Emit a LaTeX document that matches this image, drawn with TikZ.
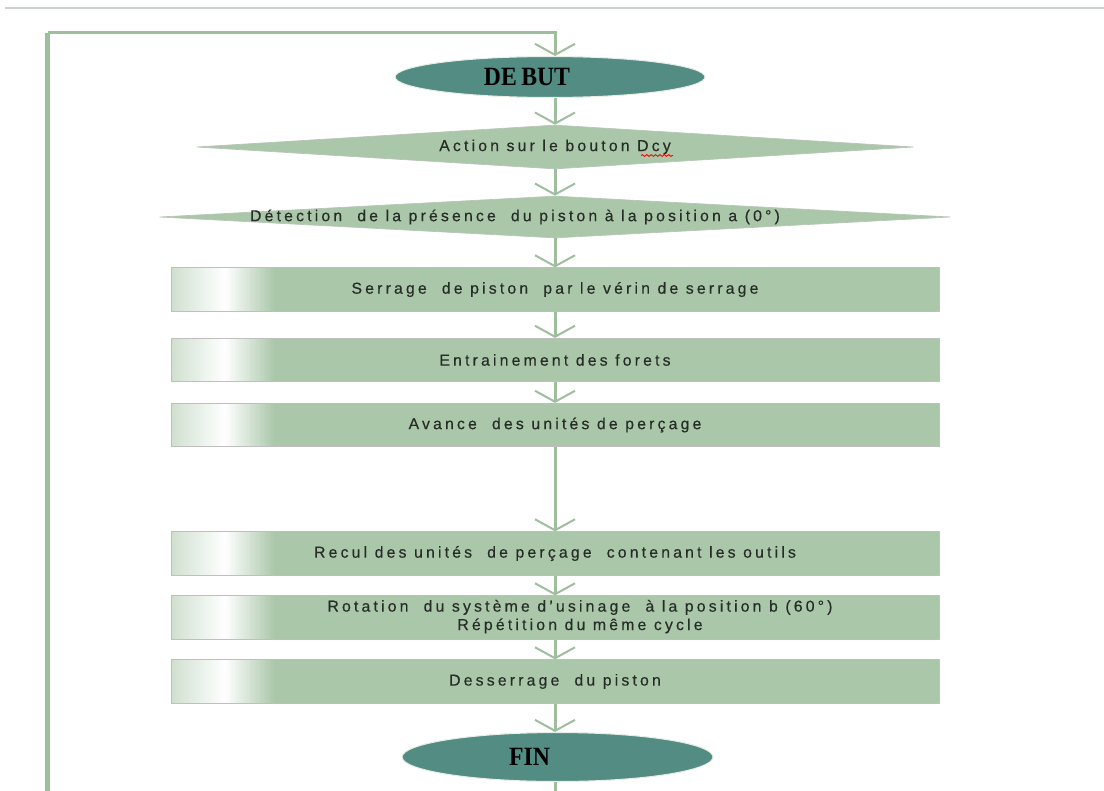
\documentclass[tikz,border=0pt]{standalone}
\usepackage{fontspec}
\usetikzlibrary{shapes.geometric,arrows.meta,decorations.pathmorphing}

\newfontfamily\stepfamily{Liberation Sans}[LetterSpace=20,FakeBold=0.3]
\newfontfamily\capfamily{Liberation Serif}[FakeStretch=0.9]

\definecolor{sage}{RGB}{170,199,170}
\definecolor{sageline}{RGB}{158,190,158}
\definecolor{endteal}{RGB}{82,140,130}
\definecolor{inkgray}{RGB}{38,44,38}
\definecolor{rulegray}{RGB}{205,210,210}

% texte decale horizontalement dans son noeud
\newcommand{\decale}[2]{\makebox[0pt]{\kern#1#2\kern-#1}}

\tikzset{
  flow/.style={draw=sageline, line width=0.06cm,
    -{Straight Barb[length=0.22cm,width=0.8cm,line width=0.04cm]}},
  link/.style={draw=sageline, line width=0.06cm},
  stepbox/.style={rectangle, draw=black!25, fill=sage,
    minimum width=15.36cm, minimum height=0.87cm, inner sep=0pt,
    text=inkgray, font={\stepfamily\fontsize{9}{9.5}\selectfont},
    % reflet blanc a gauche, en fines bandes
    path picture={
      \foreach \i in {0,...,41}{
        \pgfmathsetmacro\p{\i<21 ? 45+2.6*\i : 100-(\i-21)*5}
        \fill[white!\p!sage]
          ([xshift=\i*0.05cm]path picture bounding box.south west) rectangle
          ([xshift=\i*0.05cm+0.06cm]path picture bounding box.north west);
      }
    }},
  testbox/.style={diamond, aspect=16, fill=sage, draw=sage!80!black!60,
    minimum height=0.88cm, inner sep=0pt,
    text=inkgray, font={\stepfamily\fontsize{9}{9.5}\selectfont}},
  endcap/.style={ellipse, fill=endteal, draw=white!70!sage, line width=0.6pt,
    minimum width=6.2cm, minimum height=0.82cm, inner sep=0pt,
    text=black, font={\capfamily\bfseries\fontsize{15}{15}\selectfont}},
  wavy/.style={draw=red, line width=0.5pt, decorate,
    decoration={snake, amplitude=0.5pt, segment length=2.5pt}}
}

\begin{document}
\begin{tikzpicture}
  \useasboundingbox (0,0) rectangle (22.08,-15.82);
  % trait gris en haut de page
  \draw[rulegray, line width=0.04cm] (0.1,-0.16) -- (22.08,-0.16);

  \node[endcap] (debut) at (11.0,-1.54) {\decale{-0.46cm}{DE\,BUT}};
  \node[testbox, minimum width=14.34cm] (dcy) at (11.1,-2.94)
    {\decale{0cm}{Action sur le bouton Dcy}};
  \node[testbox, minimum width=15.82cm, minimum height=0.84cm] (pos) at (11.1,-4.34)
    {\decale{-0.8cm}{Détection~ de la présence~ du piston à la position a (0°)}};
  \node[stepbox] (serrage) at (11.1,-5.79)
    {Serrage~ de piston~ par le vérin de serrage};
  \node[stepbox] (forets) at (11.1,-7.20)
    {Entrainement des forets};
  \node[stepbox] (avance) at (11.1,-8.50)
    {Avance~ des unités de perçage};
  \node[stepbox] (recul) at (11.1,-11.07)
    {Recul des unités~ de perçage~ contenant les outils};
  \node[stepbox] (rotation) at (11.1,-12.35)
    {\decale{0.5cm}{\raisebox{-0.14cm}{\begin{tabular}{@{}c@{}}
      Rotation~ du système d’usinage~ à la position b (60°)\\[1pt]
      Répétition du même cycle\end{tabular}}}};
  \node[stepbox] (desserrage) at (11.1,-13.63)
    {Desserrage~ du piston};
  \node[endcap, minimum width=6.22cm, minimum height=0.98cm] (fin) at (11.15,-15.14)
    {\decale{-0.56cm}{FIN}};

  % soulignement du mot Dcy
  \draw[wavy] ([xshift=1.72cm,yshift=-0.17cm]dcy.center) -- ++(0.64,0);

  \coordinate (bas) at (11.1,-15.82);
  \coordinate (retour) at (0.95,-15.82);
  \coordinate (coin) at (0.95,-0.66);

  % enchainement des etapes
  \draw[flow] (debut.south -| dcy.north) -- (dcy);
  \foreach \a/\b in {dcy/pos, pos/serrage, serrage/forets, forets/avance,
      avance/recul, recul/rotation, rotation/desserrage}
    \draw[flow] (\a) -- (\b);
  \draw[flow] (desserrage) -- (desserrage.south |- fin.north);
  \draw[link] (fin.south -| bas) -- (bas);

  % retour au debut du cycle
  \draw[link, line width=0.09cm] (retour) -- (coin);
  \draw[flow] (coin) -| (debut.north -| dcy.north);
\end{tikzpicture}
\end{document}
